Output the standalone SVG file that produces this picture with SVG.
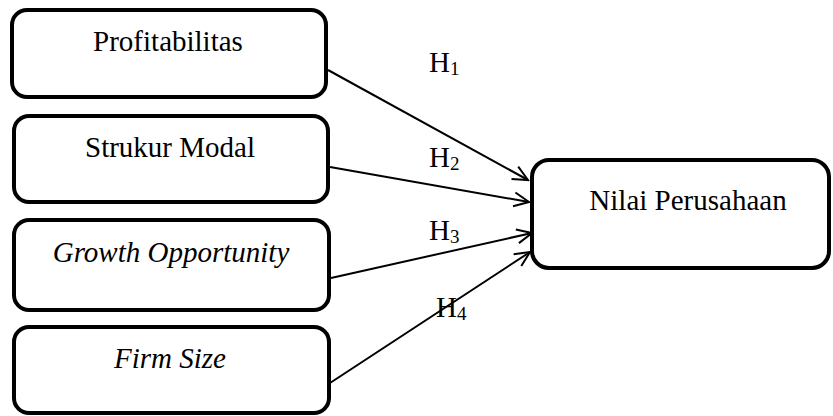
<svg xmlns="http://www.w3.org/2000/svg" width="833" height="416" viewBox="0 0 833 416">
<style>
.box{fill:#fff;stroke:#000;stroke-width:4}
.c{stroke:#000;stroke-width:2;fill:none;marker-end:url(#ah)}
</style>
<defs>
<marker id="ah" viewBox="-16 -9 18 18" refX="0" refY="0" markerWidth="18" markerHeight="18" markerUnits="userSpaceOnUse" orient="auto">
<path d="M-15,-7 L0,0 L-15,7" fill="none" stroke="#000" stroke-width="2"/>
</marker>
</defs>
<rect width="833" height="416" fill="#fff"/>
<g id="connectors">
<line class="c" x1="328" y1="70" x2="528" y2="180"/>
<line class="c" x1="330" y1="167" x2="529" y2="202"/>
<line class="c" x1="331" y1="278" x2="532" y2="233"/>
<line class="c" x1="330" y1="383" x2="530" y2="252"/>
</g>
<g id="profitabilitas">
<rect class="box" x="12" y="10" width="314" height="87" rx="15"/>
<text x="168" y="51" font-family="Liberation Serif" font-size="29" text-anchor="middle">Profitabilitas</text>
</g>
<g id="struktur-modal">
<rect class="box" x="14" y="116" width="314" height="86" rx="15"/>
<text x="170" y="157" font-family="Liberation Serif" font-size="29" text-anchor="middle">Strukur Modal</text>
</g>
<g id="growth-opportunity">
<rect class="box" x="14" y="220" width="315" height="90" rx="15"/>
<text x="171" y="262" font-family="Liberation Serif" font-size="29" font-style="italic" text-anchor="middle">Growth Opportunity</text>
</g>
<g id="firm-size">
<rect class="box" x="14" y="327" width="315" height="86" rx="15"/>
<text x="170" y="368" font-family="Liberation Serif" font-size="29" font-style="italic" text-anchor="middle">Firm Size</text>
</g>
<g id="nilai-perusahaan">
<rect class="box" x="532" y="160" width="297" height="108" rx="17"/>
<text x="688" y="210" font-family="Liberation Serif" font-size="29" text-anchor="middle">Nilai Perusahaan</text>
</g>
<g id="labels">
<text x="429" y="72" font-family="Liberation Serif" font-size="29">H<tspan font-size="19" dy="3">1</tspan></text>
<text x="429" y="167" font-family="Liberation Serif" font-size="29">H<tspan font-size="19" dy="3">2</tspan></text>
<text x="429" y="240" font-family="Liberation Serif" font-size="29">H<tspan font-size="19" dy="3">3</tspan></text>
<text x="436" y="317" font-family="Liberation Serif" font-size="29">H<tspan font-size="19" dy="3">4</tspan></text>
</g>
</svg>
